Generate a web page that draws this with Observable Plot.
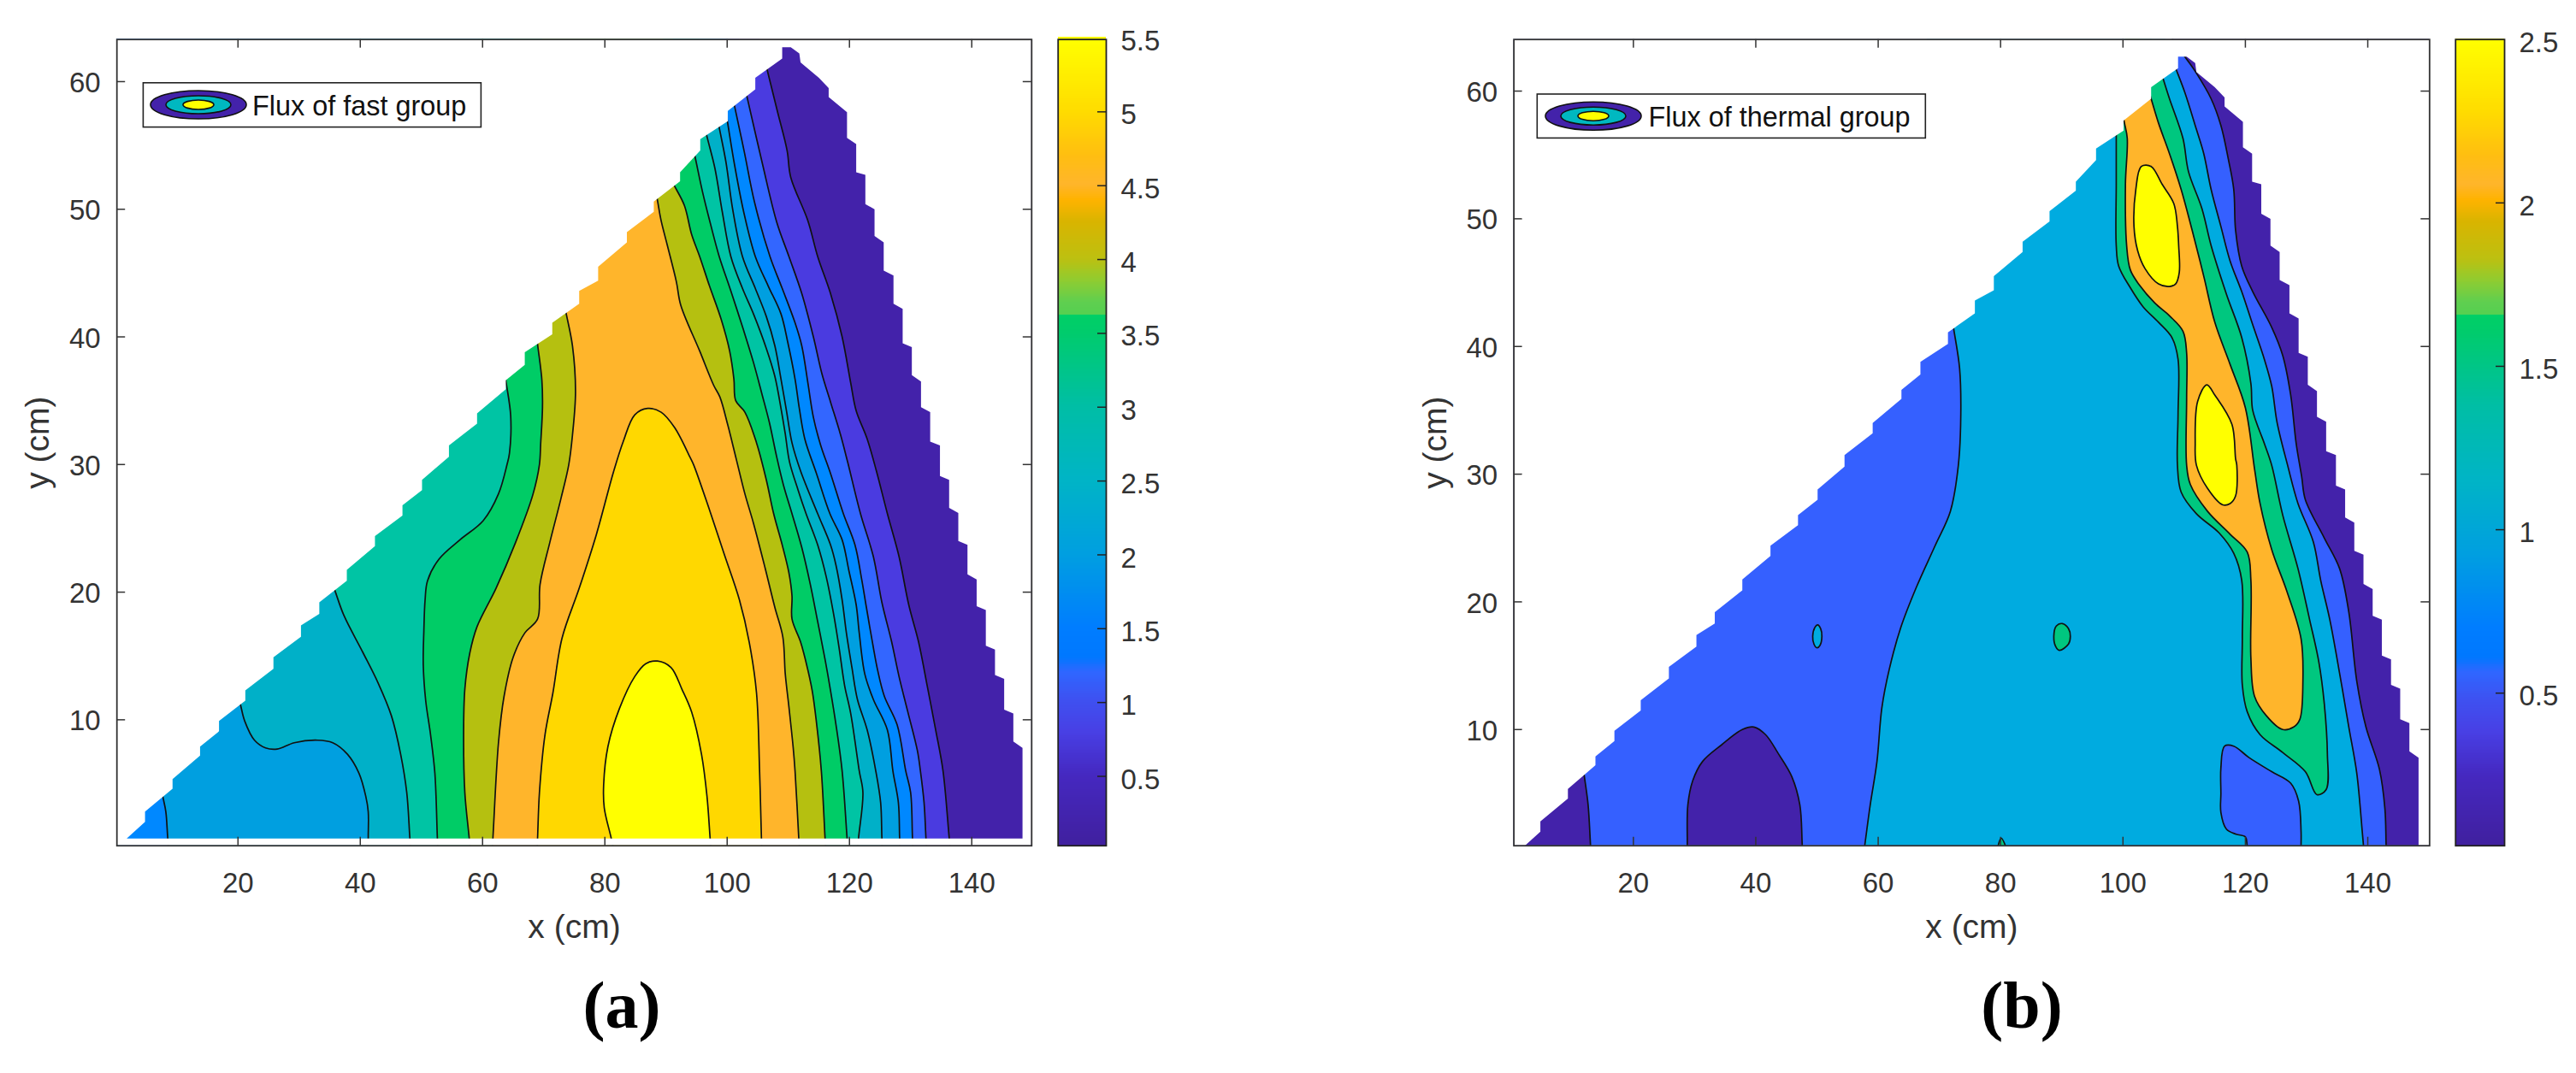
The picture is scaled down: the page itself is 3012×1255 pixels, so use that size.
<!DOCTYPE html>
<html><head><meta charset="utf-8">
<script src="https://cdn.jsdelivr.net/npm/d3@7"></script>
<script src="https://cdn.jsdelivr.net/npm/@observablehq/plot@0.6"></script>
<style>
html,body{margin:0;padding:0;background:#fff;width:3012px;height:1255px;overflow:hidden}
#page{position:relative;width:3012px;height:1255px}
#page>svg,#page>figure{position:absolute;top:0;margin:0}
.cap{position:absolute;font-family:"Liberation Serif",serif;font-weight:bold;font-size:78px;color:#000;line-height:1;transform:translateX(-50%)}
</style></head><body><div id="page"></div>
<script>
// ---------- shared mesh outline (cm) ----------
const meshEdgeHyp=[[1.8,0.7],[4.8,2.0],[4.8,2.8],[9.3,4.6],[9.3,5.35],[13.8,7.2],[13.8,7.9],[16.9,9.1],[16.9,9.9],[21.2,11.5],[21.2,12.3],[25.8,14],[25.8,14.9],[30.3,16.5],[30.3,17.4],[33.3,18.3],[33.3,19.2],[37.8,20.9],[37.8,21.75],[42.4,23.6],[42.4,24.4],[46.9,26],[46.9,26.8],[50.1,28],[50.1,28.8],[54.5,30.6],[54.5,31.5],[59.1,33.2],[59.1,34],[63.8,35.9],[63.8,36.6],[66.9,37.8],[66.9,38.8],[71.4,40.2],[71.4,41.1],[75.8,42.6],[75.8,43.6],[78.9,44.4],[78.9,45.5],[83.6,47.4],[83.6,48.2],[88,49.8],[88,50.6],[92.3,52.2],[92.3,52.9],[95.6,54.6],[95.6,55.5],[100.1,56.9],[100.1,57.7],[104.6,59.4],[104.6,60.3],[109,61.8],[109,62.7]];
const meshEdgeStairs=[[110.4,62.7],[111.8,62.2],[112,61.5],[115,60.3],[116.6,59.5],[116.6,58.8],[119.6,57.6],[119.6,55.6],[121.1,55.1],[121.1,52.9],[122.6,52.7],[122.6,50.4],[124.1,50],[124.1,47.9],[125.6,47.4],[125.6,45.2],[127.2,44.8],[127.2,42.6],[128.7,42.2],[128.7,39.5],[130.2,39.2],[130.2,37],[131.7,36.5],[131.7,34.5],[133.2,34.1],[133.2,31.8],[134.8,31.5],[134.8,29.1],[136.3,28.8],[136.3,26.6],[137.8,26.2],[137.8,24],[139.3,23.7],[139.3,21.4],[140.8,21],[140.8,18.9],[142.3,18.6],[142.3,15.8],[143.8,15.5],[143.8,13.5],[145.3,13.2],[145.3,10.8],[146.8,10.5],[146.8,8.3],[148.3,7.8],[148.3,0.7]];

// ---------- panel (a) : fast group contours, each read top to bottom ----------
const fastR1=[[106.5,61],[108.2,57.7],[109.8,54.6],[110.4,52.5],[113.2,49.1],[114.8,46.3],[116.9,43.4],[118.8,40],[120.2,36.4],[121.1,34.2],[122.9,32],[124.4,29.5],[126.2,26.15],[128.1,22.8],[129.7,19],[131.3,16.1],[132.7,12.7],[134.1,9.2],[135.3,6],[136.3,0.8]];
const fastR2=[[103.2,58.9],[105.7,53.7],[108.1,49],[110.1,46.3],[112.2,43.4],[114.1,40],[115.5,37.1],[116.9,34.9],[118.5,32.4],[119.7,30.2],[121.8,26.15],[123.9,22.8],[125.3,19.2],[126.9,16.1],[128.1,13.4],[129.5,10.7],[131.1,7.6],[131.6,6],[132.2,3.5],[132.5,0.8]];
const fastR3=[[101.2,58.1],[102.8,54.5],[104.5,50.5],[107,46.3],[109,43.8],[111.1,41.1],[112.2,39.3],[113.2,36.4],[114.1,33.7],[115.3,31.5],[116.9,29.3],[119,26.15],[120.9,23.7],[122,21],[122.7,19],[123.6,16.5],[124.6,13.9],[125.7,11.85],[127.8,9.6],[129.2,6],[130,4.3],[130.3,0.8]];
const fastR4=[[100,57],[101.2,53.5],[102.7,49.8],[104.6,46.3],[106.7,44],[108.8,41.8],[109.9,39.6],[111.1,36.7],[111.8,34.4],[112.7,32],[114.6,29.3],[116.8,26.15],[118.8,24.1],[119.9,21.7],[121.1,19],[121.6,16.8],[122.5,13.6],[123.9,11.6],[126.2,9.2],[127.1,6],[128,3.5],[128.2,0.8]];
const fastR5=[[98.7,56.4],[99.8,53.7],[100.9,50],[102.5,46.3],[104.6,43.8],[106.4,41.6],[107.8,39.3],[108.8,36.7],[109.7,34.2],[110.6,31.7],[112,29.5],[114.8,26.15],[116.9,23.7],[117.8,22.1],[118.8,19.4],[119.5,16.8],[120.4,14.1],[121.3,11.6],[122.9,9.2],[124.3,6],[125.1,3.5],[125.3,0.8]];
const fastR6=[[96.8,55.5],[98,53.2],[99.2,49.8],[100.6,46.3],[102.5,43.8],[104.3,41.8],[106.4,39.1],[107.8,36.9],[108.8,34.4],[109.5,32.4],[110.2,30.2],[111.6,28],[112.9,26.15],[114.8,23.7],[116.2,21.2],[117.4,18.3],[118.3,15.65],[119.2,12.7],[120.2,10.5],[121.6,6],[122.2,4.3],[121.5,0.8]];
const fastR7=[[94.8,54],[96,51.3],[97.3,48.8],[98.7,46.3],[100.6,43.6],[102.7,40.5],[104.3,38],[105.7,35.5],[106.9,33.3],[108.1,30.6],[109.2,28.4],[110.6,26.15],[112.2,23.5],[113.6,20.6],[114.8,17.7],[116,14.75],[116.9,12.3],[117.8,9.6],[118.8,6],[119.6,0.8]];
const fastR8=[[91.3,51.9],[93,50.3],[94.2,48],[95.5,46.3],[97.1,44],[99,41.4],[100.4,38.9],[101.1,36.7],[101.4,35],[102.9,34.1],[104.8,31.7],[106.4,28.8],[107.6,26.15],[109,23.7],[110.1,21.5],[110.6,19.7],[110.6,17.9],[112,16.1],[112.9,14.5],[113.9,12.3],[114.6,9.8],[115.4,6],[116,0.8]];
const fastR9=[[88.6,50.7],[89.2,49.1],[90.2,47.2],[91.7,44.3],[92.4,42.5],[95.5,38.9],[97.8,36.2],[98.8,35.3],[100.1,33.1],[101.5,30.4],[102.9,27.7],[104.3,25.4],[106.2,21.9],[107.8,18.8],[109.1,16.5],[109.5,13.6],[110.1,11],[110.8,7.8],[111.1,6],[111.7,0.8]];
const fastL4=[[7.7,4],[8.2,2.8],[8.5,0.8]];
const fastL5=[[20.4,11.2],[21.1,9.9],[22.7,8.4],[24.5,7.8],[26.4,7.7],[29.2,8.2],[33,8.4],[35.5,8.2],[37.9,7.3],[39.8,5.8],[40.9,4],[41.3,2.8],[41.3,0.8]];
const fastL6=[[35.8,20.2],[37.3,18.2],[40.4,15.3],[42.9,12.9],[45.1,10.3],[46.6,7.3],[47.6,4.3],[48.1,0.8]];
const fastL7=[[63.8,36.6],[64.6,33.8],[64.4,30.9],[64,30],[62.6,27.7],[60.1,25.6],[56.3,24.1],[52.9,22.6],[51,20.9],[50.6,19.4],[50.4,17],[50.3,14.3],[50.7,11.5],[51.5,8.8],[52.2,5.8],[52.6,0.8]];
const fastL8=[[69,39.4],[69.7,36.6],[69.8,34.5],[69.5,31.6],[69.3,30],[68.2,27.6],[65.4,23.9],[62.2,20.3],[59.1,17.3],[57.9,15.2],[57.1,12.4],[56.9,8.8],[57.1,4.3],[57.8,0.8]];
const fastL9=[[73.6,42],[74.7,39.3],[75.2,35.7],[74.7,32.3],[74.1,30],[72.8,27.3],[71,23.9],[69.4,20.6],[69,17.9],[66.9,16.8],[65,14.9],[63.5,11.8],[62.6,8.2],[61.7,0.8]];
const fastPeak10=[[69,0.8],[69.3,4.3],[70.2,8.8],[71.5,12.1],[73,16.4],[75.8,20.3],[78.6,24.5],[81.4,29.4],[83,31.8],[84.9,33.9],[87,34.4],[89.2,34.1],[91.4,32.9],[93.9,30.6],[94.5,30],[97,26.6],[99.5,23],[102,19.4],[103.6,16.1],[104.8,12.1],[105.3,6],[105.6,0.8]];
const fastPeak11=[[81,0.8],[79.9,3.1],[79.8,4.9],[80.5,7.9],[82.4,10.9],[84.9,13.4],[86.7,14.4],[88.6,14.6],[90.8,14.1],[92.6,12.4],[94.2,10.6],[95.8,7.3],[96.7,4],[97.2,0.8]];
const fastColors=["#4322AA","#4A3BE0","#3366FF","#0088FF","#009FE0","#00B0C8","#00C4A4","#00CC66","#B5C010","#FFB52B","#FFD800","#FFFF00"];
const fastBands=[[null,fastR1],[null,fastR2],[null,fastR3],[fastL4,fastR4],[fastL5,fastR5],[fastL6,fastR6],[fastL7,fastR7],[fastL8,fastR8],[fastL9,fastR9]];
const fastPeaks=[fastPeak10,fastPeak11];

// ---------- panel (b) : thermal group contours ----------
const thermCorner=[[12,6.3],[12.6,4.1],[13,0.9]];
const thermHump=[[28.8,0.9],[28.9,4.1],[29.7,6],[31.3,7.5],[34.4,8.8],[37.8,10],[39.7,10.2],[41.6,9.6],[43.7,8.1],[45.9,6.3],[47.2,4.1],[47.6,0.9]];
const thermDarkR=[[110.1,62.7],[112,61.4],[114.4,59.4],[116,57.3],[117.2,54.7],[118.1,52.3],[118.4,49.1],[119.4,46.3],[121.2,44.3],[124.3,41.5],[126.1,39.3],[127.4,36.2],[128.3,32.4],[129.2,29.8],[129.8,28],[132.9,25],[135.4,22.6],[136.9,19.2],[138.2,13.8],[139.7,10.2],[141.9,6.9],[142.8,3.8],[143,0.9]];
const thermCyanL=[[72.3,41.5],[73.3,38.3],[73.5,34.7],[73.1,30.7],[71.8,27.1],[69.3,24.4],[66.2,21.1],[63.7,18],[61.8,14.7],[60.6,11.7],[59.8,7.5],[58.7,4.1],[57.8,0.9]];
const thermCyanR=[[108.6,61.8],[110.1,59.9],[112,57],[113.2,55.1],[114.4,52.3],[116,49.4],[117.5,46.7],[119.4,44.3],[121.2,41.7],[123.1,39],[124.3,36.9],[125.2,34],[126.9,30.7],[128.6,27.7],[131.1,24.7],[132.3,21.7],[133.8,18.6],[135.4,14.4],[136.9,10.2],[138.2,6.6],[139.1,2],[139.3,0.9]];
const thermHole=[[120.3,0.9],[120,1.6],[118.5,1.8],[116.9,2.2],[116,3.5],[116,5],[116,7],[116.6,8.7],[118.1,8.7],[120.6,7.8],[124.3,6.7],[127.4,5.8],[128.7,4.4],[129.1,2],[129.1,0.9]];
const thermGreen=[[98.9,56.5],[98.9,52.7],[98.9,47.9],[99.3,46.3],[101.2,44.6],[103.3,43.1],[105.8,41.9],[108,40.7],[109,39],[109,34.7],[108.9,30.7],[109.5,28.6],[112,26.9],[115.7,25.4],[118.1,23.8],[119.4,21.7],[119.5,17.1],[119.5,13.5],[120.3,11.4],[122.4,9.6],[126.1,8.2],[129.8,6.7],[131.7,4.9],[133.2,5.3],[133.4,8.1],[132.9,12],[132,15.3],[130.5,18.6],[128.6,22.6],[126.1,26.8],[124.3,30.7],[123.1,32.4],[121.2,35],[120.9,37.1],[119.4,40.7],[116.9,44.1],[114.4,47.9],[112.9,50.8],[110.7,53.7],[109.8,56.3],[107.6,59.4],[106.6,60.9]];
const thermOrange=[[100.2,57.6],[100.7,56.3],[100.4,52.7],[100.6,47.9],[101.2,46],[102.7,44.8],[105.2,43.4],[107.6,42.4],[109.8,41.2],[110.4,39.5],[110.4,35.9],[110.4,30.7],[111,29.2],[113.8,27.1],[117.5,25.3],[120.3,23.9],[120.9,21.7],[120.9,15.6],[121.5,12.6],[123.4,11.1],[126.1,10],[127.9,10.2],[128.9,10.8],[129.4,13.8],[129.1,17.1],[126.8,20.8],[124.3,24.1],[122.4,27.7],[121.5,30.4],[120,35.2],[117.5,38.6],[115,41.9],[113.2,45.5],[111.3,49.1],[109.5,52.3],[107.6,55.1],[105.8,57.5],[104.6,59.4]];
const thermYellowA=[[103,54.1],[104.6,54.1],[106.4,52.7],[108.3,51.2],[108.9,49.4],[109.1,47.9],[109.2,45.8],[108.6,44.9],[107.6,44.7],[105.8,44.9],[103.6,46.1],[102.4,47.5],[101.8,49.4],[102.1,52.3]];
const thermYellowB=[[113.7,37],[115,36.2],[117.8,33.9],[118.4,31.2],[118.6,30.7],[118.4,28.3],[117.5,27.7],[116.3,27.6],[113.8,28.9],[112,30.7],[111.8,32.4],[112.2,35.7]];
const thermIslandCyan=[[49.3,17.3],[49.65,18],[50.1,18.2],[50.6,17.9],[50.8,17.3],[50.5,16.6],[50,16.4],[49.5,16.7]];
const thermIslandGreen=[[88.7,17.3],[89.1,18.1],[90.1,18.3],[91.1,17.9],[91.4,17.3],[91.1,16.7],[89.6,16.2],[89,16.5]];
const thermBump=[[79.6,0.9],[80.1,1.5],[80.8,0.9]];
const thermColors={dark:"#4322AA",blue:"#3560FF",cyan:"#00ABE0",green:"#00C77F",orange:"#FFB52B",yellow:"#FFFF00"};

// ---------- axes and colour bars ----------
const xTicks=[20,40,60,80,100,120,140];
const yTicks=[10,20,30,40,50,60];
const fastDomainX=[0.2,149.8], fastDomainY=[0.13,63.3];
const thermDomainX=[0.47,150.1], thermDomainY=[0.9,64.04];
const fastBarDomain=[0.03,5.49], fastBarTicks=[0.5,1,1.5,2,2.5,3,3.5,4,4.5,5,5.5];
const thermBarDomain=[0.033,2.5], thermBarTicks=[0.5,1,1.5,2,2.5];
const barFractions=[0,0.086,0.141,0.178,0.214,0.233,0.269,0.361,0.452,0.544,0.6355,0.6562,0.6566,0.672,0.70,0.727,0.773,0.80,0.819,0.855,0.91,1];
const barColors=["#40209F","#4528C0","#4840E5","#3F50F0","#2F66FF","#0078FF","#007DFF","#009FE0","#00B4C6","#00BEA5","#00CC6C","#00CF66","#55D050","#5ECF50","#90CC30","#BDC010","#D9B400","#FFB300","#FFB52B","#FFBE10","#FFDC00","#FFFF00"];

// ---------- helpers (geometry for painting only) ----------
const fx=d=>d[0], fy=d=>d[1];
function ext(line){ // run a contour past its two ends; the outline mask trims it
  const out=line.slice(), n=line.length;
  const push=(a,b)=>{const dx=a[0]-b[0],dy=a[1]-b[1],l=Math.hypot(dx,dy)||1;return [a[0]+dx/l*2.5,a[1]+dy/l*2.5];};
  out.unshift(push(line[0],line[1])); out.push(push(line[n-1],line[n-2]));
  return out;
}
const outerMask=[[-5,-5],[-5,70],[160,70],[160,-5],[-5,-5]];
const maskPoly=[...outerMask,[1.8,0.7],[148.3,0.7],...meshEdgeStairs.slice().reverse(),...meshEdgeHyp.slice().reverse(),[1.8,0.7],[-5,-5]];
const fill=(pts,color,curve="catmull-rom")=>Plot.line(pts,{x:fx,y:fy,fill:color,stroke:"none",curve,clip:true});
const wire=(pts,curve="catmull-rom")=>Plot.line(pts,{x:fx,y:fy,stroke:"#111",strokeWidth:1.7,curve,clip:true});
function bandPoly(left,right){
  const r=ext(right);
  if(!left) return [[-5,70],[-5,-5],...r.slice().reverse(),[r[0][0],70]];
  const l=ext(left);
  return [...l.slice().reverse(),[l[0][0],70],[r[0][0],70],...r];
}
const uiFont="'Liberation Sans',Arial,sans-serif";
function frameMarks(W){ // box ticks drawn inward on all four sides
  const len=10;
  return [
    Plot.ruleX(xTicks,{x:d=>d,insetTop:W.h-len,stroke:"#333",strokeWidth:1.5}),
    Plot.ruleX(xTicks,{x:d=>d,insetBottom:W.h-len,stroke:"#333",strokeWidth:1.5}),
    Plot.ruleY(yTicks,{y:d=>d,insetRight:W.w-len,stroke:"#333",strokeWidth:1.5}),
    Plot.ruleY(yTicks,{y:d=>d,insetLeft:W.w-len,stroke:"#333",strokeWidth:1.5}),
    Plot.frame({stroke:"#333",strokeWidth:1.8}),
    Plot.axisX(xTicks,{anchor:"bottom",tickSize:0,tickPadding:31,fontSize:33,label:null,tickFormat:d=>d}),
    Plot.axisY(yTicks,{anchor:"left",tickSize:0,tickPadding:19,fontSize:33,label:null,tickFormat:d=>d,dy:2}),
    Plot.text(["x (cm)"],{text:d=>d,frameAnchor:"bottom",dy:108,fontSize:39}),
    Plot.text(["y (cm)"],{text:d=>d,frameAnchor:"left",textAnchor:"middle",dx:-92,rotate:-90,fontSize:39})
  ];
}
function legendMark(L){
  return ()=>{
    const g=d3.create("svg:g");
    g.append("rect").attr("x",L.x).attr("y",L.y).attr("width",L.w).attr("height",L.h).attr("fill","#fff").attr("stroke","#222").attr("stroke-width",1.6);
    [[56,16.5,"#4322AA"],[38,10.5,"#00B8C0"],[18,5.5,"#FFFF00"]].forEach(([rx,ry,c])=>{
      g.append("ellipse").attr("cx",L.cx).attr("cy",L.cy).attr("rx",rx).attr("ry",ry).attr("fill",c).attr("stroke","#111").attr("stroke-width",1.6);
    });
    g.append("text").attr("x",L.tx).attr("y",L.cy+12).attr("font-size",L.fs).attr("fill","#111").attr("text-anchor","start").text(L.text);
    return g.node();
  };
}
function panel(o){
  const svg=Plot.plot({
    width:o.width,height:1140,marginLeft:o.ml,marginRight:o.width-o.ml-o.fw,marginTop:45.7,marginBottom:1140-988.7,
    x:{domain:o.dx,axis:null},y:{domain:o.dy,axis:null},
    style:{fontFamily:uiFont,color:"#333",background:"transparent",overflow:"visible"},
    marks:[...o.marks,Plot.line(maskPoly,{x:fx,y:fy,fill:"#fff",stroke:"none",curve:"linear",clip:true}),...frameMarks({w:o.fw,h:943}),legendMark(o.legend)]
  });
  svg.style.left=o.left+"px"; document.getElementById("page").appendChild(svg);
}
function colorBar(o){
  const [a,b]=o.domain, step=(b-a)/500;
  const svg=Plot.plot({
    width:o.width,height:1140,marginLeft:o.ml,marginRight:o.width-o.ml-o.bw,marginTop:45.7,marginBottom:1140-988.7,
    x:{axis:null,domain:[0,1]},y:{domain:o.domain,axis:null},
    color:{type:"linear",domain:barFractions.map(f=>a+f*(b-a)),range:barColors},
    style:{fontFamily:uiFont,color:"#333",background:"transparent",overflow:"visible"},
    marks:[
      Plot.rect(d3.range(a,b,step),{x1:0,x2:1,y1:d=>d,y2:d=>d+step*1.5,fill:d=>d,shapeRendering:"crispEdges"}),
      Plot.ruleY(o.ticks.filter(t=>t<b-0.02),{y:d=>d,insetLeft:o.bw-10,stroke:"#222",strokeWidth:1.5}),
      Plot.frame({stroke:"#222",strokeWidth:1.8}),
      Plot.axisY(o.ticks,{anchor:"right",tickSize:0,tickPadding:17,fontSize:33,label:null,tickFormat:d=>d,dy:4})
    ]
  });
  svg.style.left=o.left+"px"; document.getElementById("page").appendChild(svg);
}

// ---------- panel (a) ----------
const fastMarks=[fill([[-5,-5],[-5,70],[160,70],[160,-5]],fastColors[0],"linear")];
fastBands.forEach(([l,r],i)=>fastMarks.push(fill(bandPoly(l,r),fastColors[i+1])));
fastPeaks.forEach((p,i)=>fastMarks.push(fill(ext(p),fastColors[10+i])));
fastBands.forEach(([l,r])=>{ if(l) fastMarks.push(wire(ext(l))); fastMarks.push(wire(ext(r))); });
fastPeaks.forEach(p=>fastMarks.push(wire(ext(p))));
panel({left:0,width:1225,ml:136.2,fw:1069.6,dx:fastDomainX,dy:fastDomainY,marks:fastMarks,
  legend:{x:167.4,y:96.8,w:395,h:51.8,cx:232,cy:122.5,tx:295,fs:32.4,text:"Flux of fast group"}});
colorBar({left:1230,width:140,ml:6.7,bw:56.3,domain:fastBarDomain,ticks:fastBarTicks});

// ---------- panel (b) ----------
const tc=thermColors;
const thermMarks=[
  fill([[-5,-5],[-5,70],[160,70],[160,-5]],tc.blue,"linear"),
  fill([[-5,70],[-5,-5],...ext(thermCorner).slice().reverse()],tc.dark),
  fill(ext(thermHump),tc.dark),
  fill([...ext(thermDarkR),[170,-5],[170,70]],tc.dark),
  fill(bandPoly(thermCyanL,thermCyanR),tc.cyan),
  fill(ext(thermHole),tc.blue),
  fill(thermIslandCyan,tc.cyan,"catmull-rom-closed"),
  fill(thermIslandGreen,tc.green,"catmull-rom-closed"),
  fill(thermBump,tc.green),
  fill([...ext(thermGreen),[102,70]],tc.green),
  fill([...ext(thermOrange),[102,70]],tc.orange),
  fill(thermYellowA,tc.yellow,"catmull-rom-closed"),
  fill(thermYellowB,tc.yellow,"catmull-rom-closed"),
  wire(ext(thermCorner)),wire(ext(thermHump)),wire(ext(thermDarkR)),wire(ext(thermCyanL)),wire(ext(thermCyanR)),
  wire(ext(thermHole)),wire(thermIslandCyan,"catmull-rom-closed"),wire(thermIslandGreen,"catmull-rom-closed"),wire(thermBump),
  wire(ext(thermGreen)),wire(ext(thermOrange)),wire(thermYellowA,"catmull-rom-closed"),wire(thermYellowB,"catmull-rom-closed")
];
panel({left:1640,width:1210,ml:129.6,fw:1070.7,dx:thermDomainX,dy:thermDomainY,marks:thermMarks,
  legend:{x:157.3,y:110,w:454,h:51.4,cx:223,cy:135.7,tx:287.5,fs:32.4,text:"Flux of thermal group"}});
colorBar({left:2865,width:147,ml:5.7,bw:57.3,domain:thermBarDomain,ticks:thermBarTicks});

// ---------- captions ----------
[["(a)",727,1137],["(b)",2364,1137]].forEach(([t,x,y])=>{
  const d=document.createElement("div");d.className="cap";d.textContent=t;d.style.left=x+"px";d.style.top=y+"px";
  document.getElementById("page").appendChild(d);
});
</script></body></html>
